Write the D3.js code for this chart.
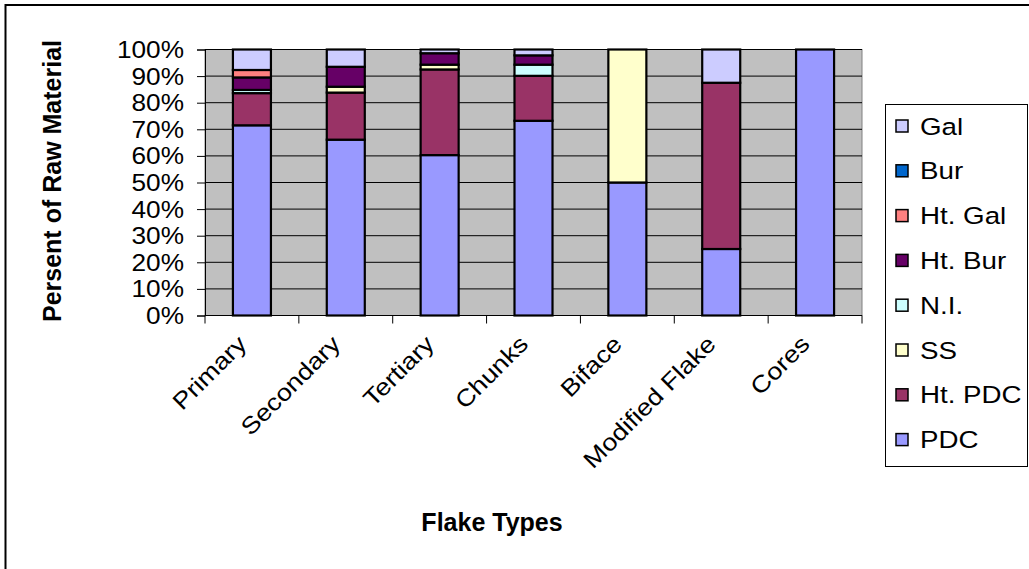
<!DOCTYPE html>
<html><head><meta charset="utf-8">
<script src="https://cdn.jsdelivr.net/npm/d3@7"></script>
<style>
html,body{margin:0;padding:0;background:#fff;}
svg{display:block;font-family:"Liberation Sans",Arial,sans-serif;}
</style></head>
<body>
<svg id="chart" width="1029" height="569"></svg>
<script>
// ---- data ----
const categories = ["Primary","Secondary","Tertiary","Chunks","Biface","Modified Flake","Cores"];
const seriesNames = ["PDC","Ht. PDC","SS","N.I.","Ht. Bur","Ht. Gal","Bur","Gal"];
const PDC   = [71.5, 66.1, 60.3, 73.2, 50, 25, 100];
const HtPDC = [12.1, 17.7, 32.2, 16.9, 0, 62.5, 0];
const SS    = [0, 2.2, 1.8, 0, 50, 0, 0];
const NI    = [1.2, 0, 0, 4.2, 0, 0, 0];
const HtBur = [4.7, 7.5, 4.3, 3.5, 0, 0, 0];
const HtGal = [2.8, 0, 0, 0, 0, 0, 0];
const Bur   = [0, 0, 0, 0, 0, 0, 0];
const Gal   = [7.7, 6.5, 1.4, 2.2, 0, 12.5, 0];
const seriesValues = [PDC, HtPDC, SS, NI, HtBur, HtGal, Bur, Gal];
const seriesColors = ["#9999FF","#993366","#FFFFCC","#CCFFFF","#660066","#FF8080","#0066CC","#CCCCFF"];
const yTicks = [0,0.1,0.2,0.3,0.4,0.5,0.6,0.7,0.8,0.9,1.0];
const yTitle = "Persent of Raw Material";
const xTitle = "Flake Types";

// ---- layout ----
const svg = d3.select("#chart");
const plot = {left:205, right:862, top:49.5, bottom:315.5};

// outer frame (cropped on right/bottom)
svg.append("path").attr("d","M5.5,569 L5.5,5 L1029,5")
  .attr("fill","none").attr("stroke","#000").attr("stroke-width",2);

const x = d3.scaleBand().domain(categories).range([plot.left, plot.right]).paddingInner(0.595).paddingOuter(0.2975);
const y = d3.scaleLinear().domain([0,1]).range([plot.bottom, plot.top]);

// plot background
svg.append("rect").attr("x",plot.left).attr("y",plot.top)
  .attr("width",plot.right-plot.left).attr("height",plot.bottom-plot.top)
  .attr("fill","#C0C0C0").attr("stroke","#808080").attr("stroke-width",1);

// gridlines
svg.append("g").selectAll("line").data(yTicks.slice(1)).join("line")
  .attr("x1",plot.left).attr("x2",plot.right)
  .attr("y1",d=>y(d)).attr("y2",d=>y(d))
  .attr("stroke","#000").attr("stroke-width",1);

// stacked data
const rows = categories.map((c,i)=>{
  const r = {cat:c};
  seriesNames.forEach((s,j)=>{ r[s]=seriesValues[j][i]; });
  return r;
});
const stacked = d3.stack().keys(seriesNames).offset(d3.stackOffsetExpand)(rows);

const bars = svg.append("g");
stacked.forEach((layer,j)=>{
  bars.append("g").selectAll("rect")
    .data(layer.filter(d=>d[1]-d[0]>1e-9))
    .join("rect")
    .attr("x",d=>x(d.data.cat))
    .attr("width",x.bandwidth())
    .attr("y",d=>y(d[1]))
    .attr("height",d=>y(d[0])-y(d[1]))
    .attr("fill",seriesColors[j])
    .attr("stroke","#000").attr("stroke-width",2.2);
});

// y axis
const yAxis = svg.append("g").attr("transform",`translate(${plot.left},0)`)
  .call(d3.axisLeft(y).tickValues(yTicks).tickFormat(d3.format(".0%")).tickSize(8).tickPadding(0));
yAxis.select(".domain").attr("stroke","#000").attr("stroke-width",1);
yAxis.selectAll(".tick line").attr("stroke","#000");
yAxis.selectAll(".tick text").remove();
yAxis.selectAll(".tick").append("text")
  .attr("transform","translate(-21,8) scale(1.14,1)")
  .attr("text-anchor","end").attr("fill","#000")
  .style("font-size","23px").style("font-family","'Liberation Sans',Arial,sans-serif")
  .text(d=>d3.format(".0%")(d));

// x axis (ticks at category boundaries)
const step = x.step();
const bounds = d3.range(categories.length+1).map(i=>plot.left+i*step);
svg.append("line").attr("x1",plot.left).attr("x2",plot.right)
  .attr("y1",plot.bottom).attr("y2",plot.bottom).attr("stroke","#000");
svg.append("g").selectAll("line").data(bounds).join("line")
  .attr("x1",d=>d).attr("x2",d=>d).attr("y1",plot.bottom).attr("y2",plot.bottom+8)
  .attr("stroke","#000");
svg.append("g").selectAll("text").data(categories).join("text")
  .attr("transform",d=>`translate(${x(d)+x.bandwidth()/2-4},${plot.bottom+30}) rotate(-45) scale(1.15,1)`)
  .attr("text-anchor","end").style("font-size","23.5px").attr("fill","#000")
  .text(d=>d);

// axis titles
svg.append("text").attr("x",492).attr("y",531).attr("text-anchor","middle")
  .style("font-size","25px").style("font-weight","bold").text(xTitle);
svg.append("text").attr("transform","translate(61,181) rotate(-90)").attr("text-anchor","middle")
  .style("font-size","25px").style("font-weight","bold").text(yTitle);

// legend
const lg = svg.append("g");
lg.append("rect").attr("x",885.5).attr("y",104.5).attr("width",142).attr("height",362)
  .attr("fill","#fff").attr("stroke","#000").attr("stroke-width",1);
const legendOrder = seriesNames.map((s,i)=>i).reverse();
const items = lg.selectAll("g.item").data(legendOrder).join("g").attr("class","item")
  .attr("transform",(d,i)=>`translate(0,${126+i*44.8})`);
items.append("rect").attr("x",896).attr("y",-6).attr("width",12).attr("height",12)
  .attr("fill",d=>seriesColors[d]).attr("stroke","#000").attr("stroke-width",1.5);
items.append("text").attr("transform","translate(920,8.5) scale(1.18,1)")
  .style("font-size","23.5px").attr("fill","#000").text(d=>seriesNames[d]);
</script>
</body></html>
